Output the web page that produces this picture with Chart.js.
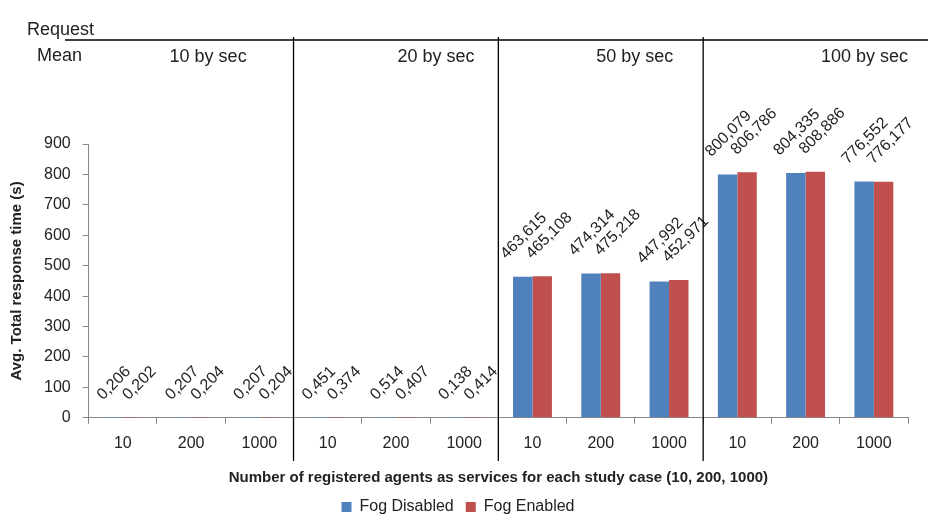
<!DOCTYPE html>
<html>
<head>
<meta charset="utf-8">
<script src="https://cdn.jsdelivr.net/npm/chart.js@4"></script>
<style>
  body { margin: 0; background: #fff; }
  #wrap { width: 928px; height: 528px; }
</style>
</head>
<body>
<div id="wrap"><canvas id="chart" width="928" height="528"></canvas></div>
<script>
// --- DATA ---
const categories = ['10', '200', '1000', '10', '200', '1000', '10', '200', '1000', '10', '200', '1000'];
const groupLabels = ['10 by sec', '20 by sec', '50 by sec', '100 by sec'];
const fogDisabled = [0.206, 0.207, 0.207, 0.451, 0.514, 0.138, 463.615, 474.314, 447.992, 800.079, 804.335, 776.552];
const fogEnabled = [0.202, 0.204, 0.204, 0.374, 0.407, 0.414, 465.108, 475.218, 452.971, 806.786, 808.886, 776.177];
const yTicks = [0, 100, 200, 300, 400, 500, 600, 700, 800, 900];

const FONT = '"Liberation Sans", Arial, sans-serif';
const TEXT = '#222';

Chart.defaults.font.family = FONT;
Chart.defaults.color = TEXT;

const fmt = v => v.toFixed(3).replace('.', ',');

// rotated value labels above each bar
const dataLabels = {
  id: 'dataLabels',
  afterDatasetsDraw(chart) {
    const ctx = chart.ctx;
    ctx.save();
    ctx.font = '16px ' + FONT;
    ctx.fillStyle = TEXT;
    ctx.textAlign = 'center';
    ctx.textBaseline = 'middle';
    chart.data.datasets.forEach((ds, i) => {
      chart.getDatasetMeta(i).data.forEach((bar, j) => {
        const txt = fmt(ds.data[j]);
        const w = ctx.measureText(txt).width;
        const off = 16 + (w + 12) * 0.354;
        const dx = i === 1 ? 7 : 1; // second label sits a little further right
        ctx.save();
        ctx.translate(bar.x + dx, bar.y - off);
        ctx.rotate(-Math.PI / 4);
        ctx.fillText(txt, 0, 0);
        ctx.restore();
      });
    });
    ctx.restore();
  }
};

// header row ("Request Mean", group names) and group separators
const groupFrame = {
  id: 'groupFrame',
  afterDraw(chart) {
    const ctx = chart.ctx;
    const x = chart.scales.x;
    ctx.save();
    ctx.strokeStyle = '#000';
    ctx.lineWidth = 1.3;
    ctx.beginPath();
    ctx.moveTo(65, 40);
    ctx.lineTo(928, 40);
    ctx.stroke();

    const bounds = [];
    for (let g = 1; g < groupLabels.length; g++) {
      const bx = (x.getPixelForValue(g * 3 - 1) + x.getPixelForValue(g * 3)) / 2;
      bounds.push(bx);
      ctx.beginPath();
      ctx.moveTo(bx, 37);
      ctx.lineTo(bx, 461);
      ctx.stroke();
    }

    ctx.fillStyle = TEXT;
    ctx.font = '18px ' + FONT;
    ctx.textBaseline = 'middle';
    ctx.textAlign = 'left';
    ctx.fillText('Request', 27, 30);
    ctx.fillText('Mean', 37, 56);

    // label offsets from each group's centre, as in the original
    const shift = [17, 40, 34, 59];
    const edges = [x.left].concat(bounds, [x.right]);
    ctx.textAlign = 'center';
    groupLabels.forEach((lbl, g) => {
      const cx = (edges[g] + edges[g + 1]) / 2 + shift[g];
      ctx.fillText(lbl, cx, 57);
    });
    ctx.restore();
  }
};

new Chart(document.getElementById('chart'), {
  type: 'bar',
  data: {
    labels: categories,
    datasets: [
      { label: 'Fog Disabled', data: fogDisabled, backgroundColor: '#4F81BD', categoryPercentage: 0.57, barPercentage: 1 },
      { label: 'Fog Enabled', data: fogEnabled, backgroundColor: '#C0504D', categoryPercentage: 0.57, barPercentage: 1 }
    ]
  },
  options: {
    responsive: false,
    animation: false,
    layout: { padding: { top: 144, right: 20, left: 8, bottom: 3 } },
    plugins: {
      legend: {
        position: 'bottom',
        labels: { boxWidth: 10, boxHeight: 10, font: { size: 16 }, padding: 12, color: TEXT }
      },
      tooltip: { enabled: false }
    },
    scales: {
      x: {
        grid: { drawOnChartArea: false, tickLength: 6, color: '#888', offset: true },
        border: { color: '#888' },
        ticks: { font: { size: 16 }, padding: 10, maxRotation: 0, autoSkip: false },
        title: {
          display: true,
          text: 'Number of registered agents as services for each study case (10, 200, 1000)',
          font: { size: 15, weight: 'bold' },
          padding: { top: 6, bottom: 0 }
        }
      },
      y: {
        min: 0,
        max: 900,
        afterBuildTicks: axis => { axis.ticks = yTicks.map(v => ({ value: v })); },
        grid: { drawOnChartArea: false, tickLength: 6, color: '#888' },
        border: { color: '#888' },
        ticks: { font: { size: 16 }, padding: 12 },
        title: {
          display: true,
          text: 'Avg. Total response time (s)',
          font: { size: 15, weight: 'bold' },
          padding: { top: 0, bottom: 6 }
        }
      }
    }
  },
  plugins: [dataLabels, groupFrame]
});
</script>
</body>
</html>
